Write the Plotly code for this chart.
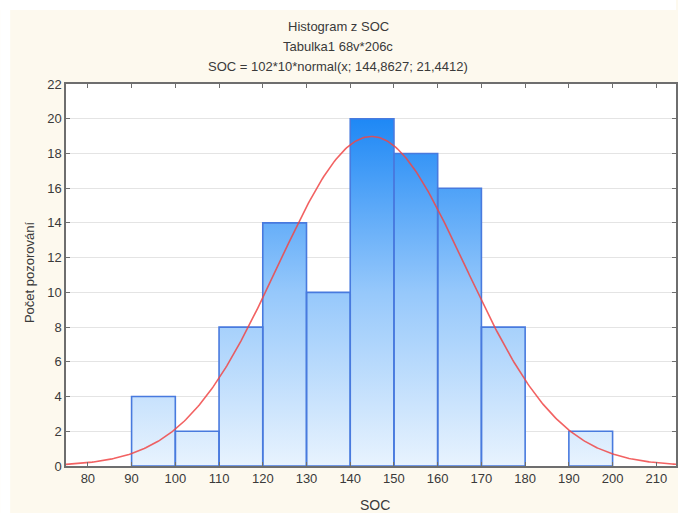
import numpy as np
import plotly.graph_objects as go

# Histogram of SOC: bin edges and observed counts
bin_lefts = [90, 100, 110, 120, 130, 140, 150, 160, 170, 180, 190]
bin_width = 10
counts = [4, 2, 8, 14, 10, 20, 18, 16, 8, 0, 2]

# Fitted normal curve: SOC = 102*10*normal(x; 144,8627; 21,4412)
n_obs = 102
mean_soc = 144.8627
sd_soc = 21.4412

y_ticks = list(range(0, 23, 2))
x_ticks = list(range(80, 211, 10))

W, H = 678, 513
ML, MR, MT, MB = 66, 0, 84, 47
PW, PH = W - ML - MR, H - MT - MB

FONT = "Liberation Sans, Arial, sans-serif"
TXT = "#3a3a3a"
CREAM = "#fdf9ee"
BAR_EDGE = "rgb(72,122,222)"


def px_to_paper_x(px):
    return (px - ML) / PW


def px_to_paper_y(py):
    return (H - MB - py) / PH


# Bar polygons (separated by gaps) for the vertically graded fill and outlines
poly_x, poly_y = [], []
for left, c in zip(bin_lefts, counts):
    if c <= 0:
        continue
    right = left + bin_width
    poly_x += [left, left, right, right, left, None]
    poly_y += [0, c, c, 0, 0, None]

fig = go.Figure()

fig.add_trace(go.Scatter(
    x=poly_x, y=poly_y, mode="lines", fill="toself",
    line=dict(width=0, color="rgba(0,0,0,0)"),
    fillgradient=dict(
        type="vertical", start=0, stop=20,
        colorscale=[[0, "rgb(232,243,254)"], [0.5, "rgb(150,200,251)"], [1, "rgb(30,136,245)"]],
    ),
    hoverinfo="skip", showlegend=False,
))

fig.add_trace(go.Scatter(
    x=poly_x, y=poly_y, mode="lines",
    line=dict(color=BAR_EDGE, width=1.6),
    hoverinfo="skip", showlegend=False,
))

xs = np.linspace(75, 215, 400)
pdf = np.exp(-0.5 * ((xs - mean_soc) / sd_soc) ** 2) / (sd_soc * np.sqrt(2 * np.pi))
fig.add_trace(go.Scatter(
    x=xs, y=n_obs * bin_width * pdf, mode="lines",
    line=dict(color="rgba(240,70,70,0.85)", width=1.6),
    showlegend=False,
))

axis_common = dict(
    showline=True, linecolor="#6e6e6e", linewidth=1.5, mirror="ticks",
    ticks="inside", ticklen=4, tickcolor="#6e6e6e", tickwidth=1.2,
    tickfont=dict(family=FONT, size=13, color=TXT),
    zeroline=False,
)


def label(text, px, py, size=13, angle=0):
    return dict(text=text, x=px_to_paper_x(px), y=px_to_paper_y(py), textangle=angle,
                xref="paper", yref="paper", xanchor="center", yanchor="middle",
                showarrow=False, font=dict(family=FONT, size=size, color=TXT))


fig.update_layout(
    width=W, height=H,
    margin=dict(l=ML, r=MR, t=MT, b=MB, pad=0),
    paper_bgcolor=CREAM, plot_bgcolor="white",
    xaxis=dict(range=[75, 214.5], tickvals=x_ticks, showgrid=False, **axis_common),
    yaxis=dict(range=[0, 22], tickvals=y_ticks, showgrid=True, gridcolor="#e4e4e4",
               gridwidth=1.2, **axis_common),
    font=dict(family=FONT, color=TXT),
    shapes=[
        dict(type="rect", xref="paper", yref="paper", layer="above",
             x0=px_to_paper_x(0), x1=px_to_paper_x(W), y0=px_to_paper_y(10), y1=px_to_paper_y(0),
             fillcolor="white", line=dict(width=0)),
        dict(type="rect", xref="paper", yref="paper", layer="above",
             x0=px_to_paper_x(0), x1=px_to_paper_x(10), y0=px_to_paper_y(H), y1=px_to_paper_y(0),
             fillcolor="white", line=dict(width=0)),
    ],
    annotations=[
        label("Histogram z SOC", 339, 27),
        label("Tabulka1 68v*206c", 339, 46),
        label("SOC = 102*10*normal(x; 144,8627; 21,4412)", 339, 66),
        label("Počet pozorování", 29, 272, angle=-90),
        label("SOC", 376, 505, size=14),
    ],
)

fig.write_html("out.html")
